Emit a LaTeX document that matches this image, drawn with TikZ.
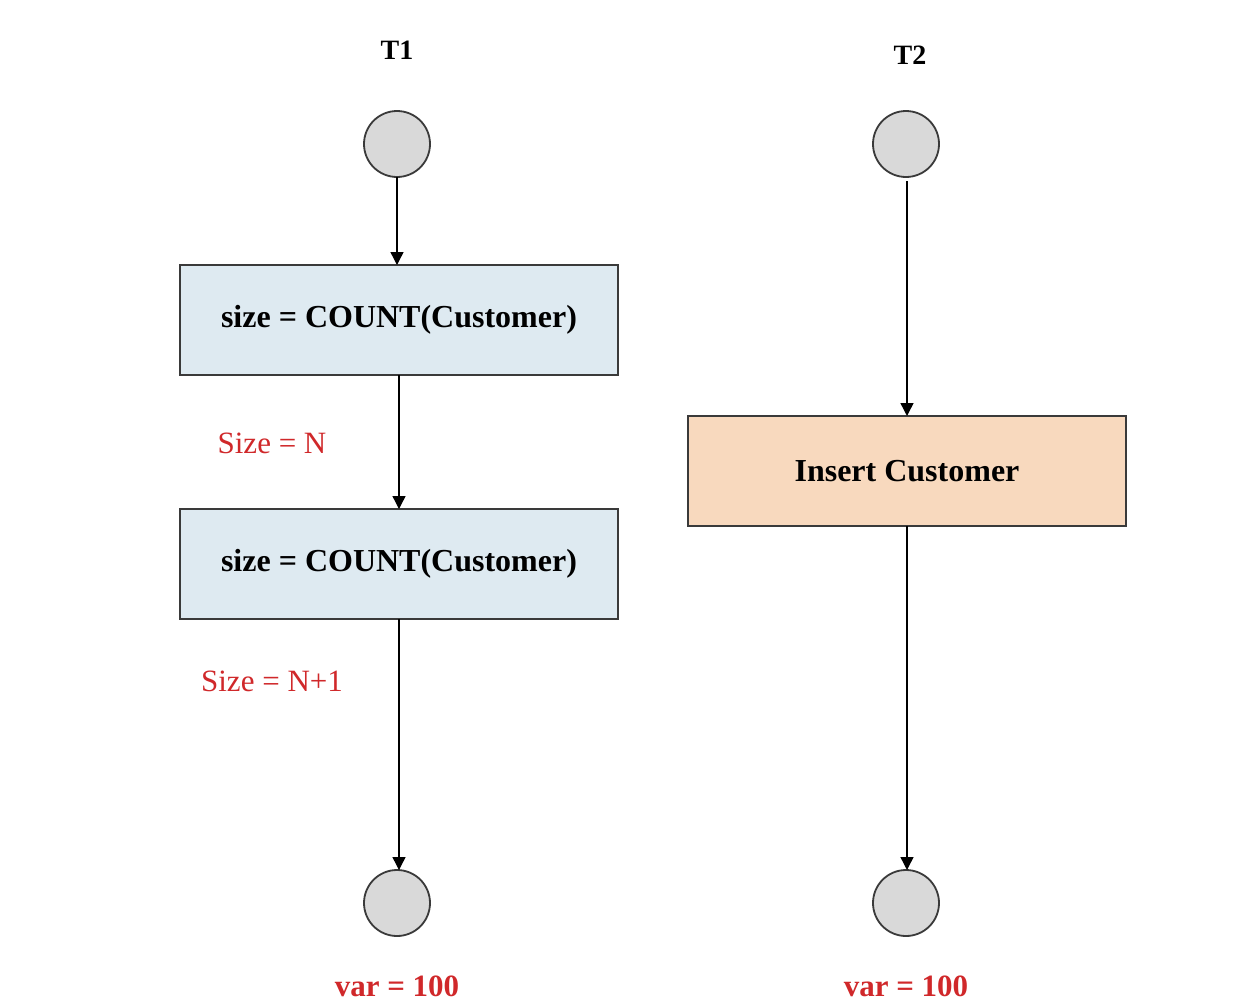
\documentclass[tikz,border=0pt]{standalone}
\usepackage{fontspec}
\setmainfont{Liberation Serif}
\usetikzlibrary{arrows.meta}
\definecolor{boxblue}{HTML}{DEEAF1}
\definecolor{boxpeach}{HTML}{F8D9BE}
\definecolor{circfill}{HTML}{D9D9D9}
\definecolor{edge}{HTML}{3A3A3A}
\definecolor{lblred}{HTML}{D0282A}
\tikzset{
  every node/.style={inner sep=0pt, outer sep=0pt},
  state/.style={circle, draw=edge, line width=1.8pt, fill=circfill, minimum size=66pt},
  procbox/.style={rectangle, draw=edge, line width=1.6pt, minimum width=438pt, minimum height=110pt, font=\fontsize{32}{38}\selectfont\bfseries},
  title/.style={font=\fontsize{28}{34}\selectfont\bfseries},
  redlbl/.style={text=lblred, font=\fontsize{31}{36}\selectfont},
  varlbl/.style={text=lblred, font=\fontsize{31}{36}\selectfont\bfseries},
  flow/.style={line width=1.4pt, -{Triangle[width=13pt,length=13pt]}}
}
\begin{document}
\begin{tikzpicture}[x=1pt,y=-1pt]
\useasboundingbox[fill=white] (0,0) rectangle (1234,1004);
% titles
\node[title] (t1) at (397,50) {T1};
\node[title] (t2) at (910,55) {T2};
% T1 column
\node[state] (s1) at (397,144) {};
\node[procbox, fill=boxblue] (b1) at (399,320) {size = COUNT(Customer)};
\node[procbox, fill=boxblue] (b2) at (399,564) {size = COUNT(Customer)};
\node[state] (e1) at (397,903) {};
\node[redlbl] (l1) at (272,443) {Size = N};
\node[redlbl] (l2) at (272,681) {Size = N+1};
\node[varlbl] (v1) at (397,986) {var = 100};
% T2 column
\node[state] (s2) at (906,144) {};
\node[procbox, fill=boxpeach] (b3) at (907,471) {Insert Customer};
\node[state] (e2) at (906,903) {};
\node[varlbl] (v2) at (906,986) {var = 100};
% connectors
\draw[flow] (s1.south) -- (s1.south |- b1.north);
\draw[flow] (b1.south) -- (b2.north);
\draw[flow] (b2.south) -- (b2.south |- e1.north);
\draw[flow] (b3.south |- s2.south) ++(0,4) -- (b3.north);
\draw[flow] (b3.south) -- (b3.south |- e2.north);
\end{tikzpicture}
\end{document}
